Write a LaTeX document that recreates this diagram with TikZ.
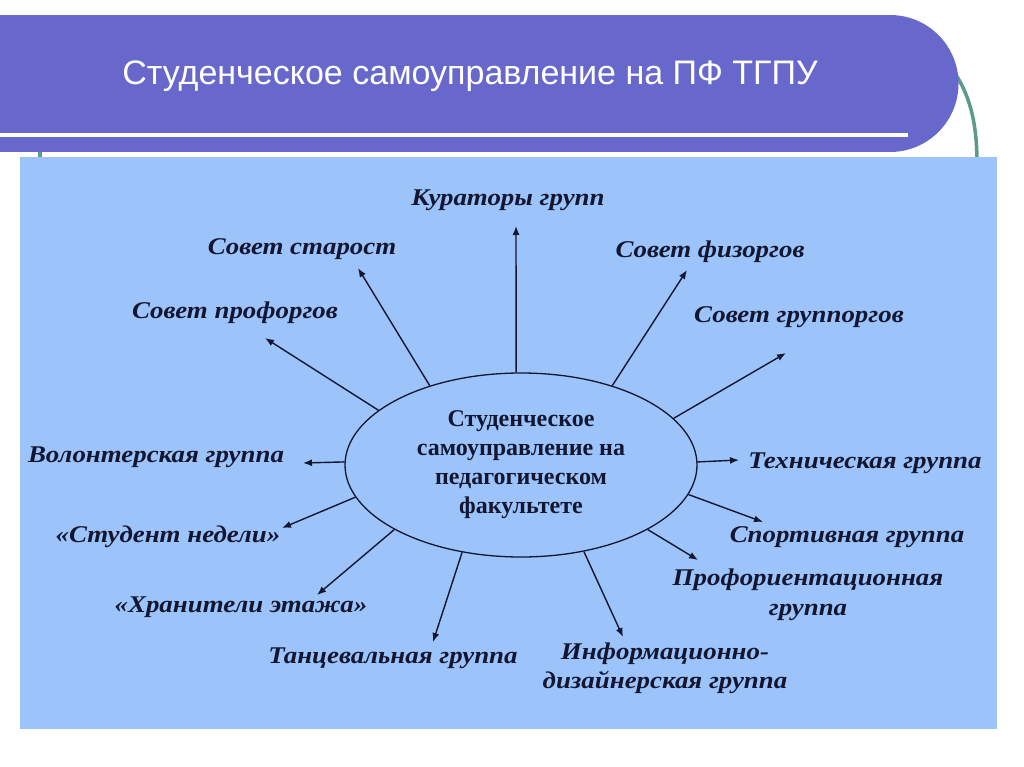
\documentclass[tikz,border=0pt]{standalone}
\usepackage{fontspec}
\setmainfont{Liberation Serif}
\newfontfamily\titlefont{Liberation Sans}
\newfontfamily\labfont[FakeStretch=1.12]{Liberation Serif}
\newfontfamily\ellfont{Liberation Serif}
\usetikzlibrary{shapes.geometric,arrows.meta}
\definecolor{hdr}{RGB}{104,104,204}
\definecolor{panel}{RGB}{156,195,250}
\definecolor{teal}{RGB}{91,155,140}
\definecolor{ink}{RGB}{18,22,48}
\tikzset{
  lab/.style={font=\labfont\bfseries\itshape\fontsize{24}{29}\selectfont, text=ink, inner sep=0pt, align=center},
  conn/.style={draw=ink, line width=1.4pt, -{Latex[length=9pt,width=7pt]}}
}
\begin{document}
\begin{tikzpicture}[x=1pt,y=-1pt]
\useasboundingbox (0,0) rectangle (1024,767);
\fill[white] (0,0) rectangle (1024,767);
% teal decorative lines
\draw[teal, line width=3.5pt] (930,45) .. controls (970,80) and (977,120) .. (977,165);
\draw[teal, line width=3.5pt] (40,140) -- (40,165);
% header band
\fill[hdr] (0,15) rectangle (890,152);
\fill[hdr] (890,83.5) circle[radius=68.5];
\draw[white, line width=4pt] (0,135) -- (908,135);
\node[font=\titlefont\fontsize{34}{40}\selectfont, text=white, inner sep=0pt] (title) at (470,76) {Студенческое самоуправление на ПФ ТГПУ};
% panel
\fill[panel] (20,157) rectangle (997,729);
% central ellipse
\node[ellipse, draw=ink, line width=1.3pt, minimum width=352pt, minimum height=184pt, inner sep=0pt,
      font=\ellfont\bfseries\fontsize{24}{29}\selectfont, text=ink, align=center] (ell) at (521,465)
  {Студенческое\\самоуправление на\\педагогическом\\факультете};
% labels
\node[lab] (kur) at (508,200) {Кураторы групп};
\node[lab] (star) at (302,249) {Совет старост};
\node[lab] (prof) at (235,313) {Совет профоргов};
\node[lab] (fiz) at (710,252) {Совет физоргов};
\node[lab] (grp) at (799,317) {Совет группоргов};
\node[lab] (vol) at (156,457) {Волонтерская группа};
\node[lab] (stud) at (168,537) {«Студент недели»};
\node[lab] (hran) at (241,607) {«Хранители этажа»};
\node[lab] (tanc) at (393,658) {Танцевальная группа};
\node[lab] (tech) at (865,463) {Техническая группа};
\node[lab] (sport) at (847,537) {Спортивная группа};
\node[lab, font=\labfont\bfseries\itshape\fontsize{24}{30}\selectfont] (proff) at (808,595) {Профориентационная\\группа};
\node[lab, font=\labfont\bfseries\itshape\fontsize{24}{29}\selectfont] (info) at (665,668) {Информационно-\\дизайнерская группа};
% arrow tips
\coordinate (tkur) at (516,226);
\coordinate (tstar) at (358,268);
\coordinate (tprof) at (265,338);
\coordinate (tfiz) at (687,270);
\coordinate (tgrp) at (786,353);
\coordinate (tvol) at (303,463);
\coordinate (tstud) at (282,528);
\coordinate (thran) at (317,595);
\coordinate (ttanc) at (433,642);
\coordinate (ttech) at (739,460);
\coordinate (tsport) at (763,522);
\coordinate (tproff) at (698,560);
\coordinate (tinfo) at (623,637);
% connectors
\draw[conn] (ell.93) -- (tkur);
\draw[conn] (ell.139) -- (tstar);
\draw[conn] (ell.159.4) -- (tprof);
\draw[conn] (ell.41) -- (tfiz);
\draw[conn] (ell.17.5) -- (tgrp);
\draw[conn] (ell.179.3) -- (tvol);
\draw[conn] (ell.191.9) -- (tstud);
\draw[conn] (ell.207.8) -- (thran);
\draw[conn] (ell.236.7) -- (ttanc);
\draw[conn] (ell.1.6) -- (ttech);
\draw[conn] (ell.-10.5) -- (tsport);
\draw[conn] (ell.-27.4) -- (tproff);
\draw[conn] (ell.-54.2) -- (tinfo);
\end{tikzpicture}
\end{document}
